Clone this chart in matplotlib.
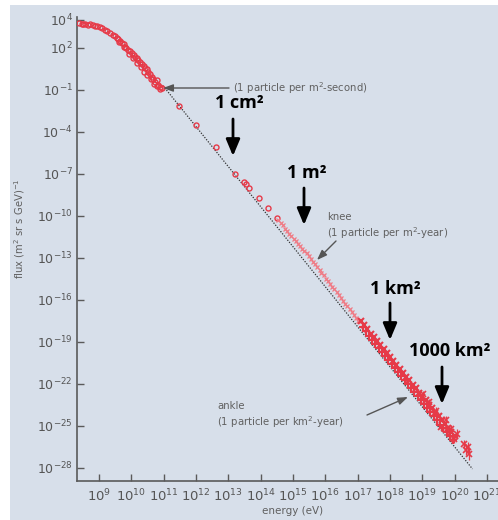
import numpy as np
import matplotlib
matplotlib.use("Agg")
import matplotlib.pyplot as plt
from matplotlib.patches import Rectangle

W, H = 498, 520

# ---------------- data (log10 values) ----------------
# low-energy open circles (dense part)
low_logE = [8.38, 8.46, 8.52, 8.58, 8.65, 8.72, 8.80, 8.88, 8.95, 9.03, 9.10,
            9.19, 9.26, 9.34, 9.42, 9.50, 9.55, 9.59, 9.65, 9.71, 9.76, 9.80,
            9.85, 9.90, 9.96, 10.02, 10.07, 10.11, 10.16, 10.21, 10.27, 10.33,
            10.38, 10.42, 10.47, 10.52, 10.58, 10.64, 10.68, 10.73, 10.78,
            10.83, 10.90, 10.95]
low_logF = [3.76, 3.74, 3.69, 3.72, 3.66, 3.69, 3.63, 3.60, 3.55, 3.52, 3.40,
            3.29, 3.20, 3.05, 2.95, 2.86, 2.74, 2.62, 2.52, 2.38, 2.28, 2.10,
            2.02, 1.86, 1.76, 1.62, 1.52, 1.38, 1.28, 1.14, 1.02, 0.86, 0.74,
            0.55, 0.48, 0.31, 0.12, -0.05, -0.22, -0.40, -0.30, -0.64, -0.78,
            -0.88]
low2_logE = [9.62, 9.78, 9.94, 10.05, 10.18, 10.30, 10.40, 10.50, 10.60, 10.70,
             10.80, 10.88]
low2_logF = [2.45, 2.05, 1.55, 1.30, 0.95, 0.62, 0.30, 0.05, -0.20, -0.55,
             -0.70, -0.92]

# sparse open circles
mid_logE = [11.48, 12.00, 12.62, 13.22, 13.47, 13.55, 13.65, 13.96, 14.24, 14.50]
mid_logF = [-2.14, -3.50, -5.05, -6.97, -7.55, -7.72, -8.02, -8.74, -9.45, -10.16]

# knee region (small light markers)
knee_logE = [14.55, 14.62, 14.68, 14.75, 14.82, 14.88, 14.95, 15.02, 15.08,
             15.15, 15.22, 15.28, 15.35, 15.42, 15.48, 15.55, 15.62, 15.68,
             15.75, 15.82, 15.88, 15.95, 16.02, 16.08, 16.15, 16.22, 16.28,
             16.35, 16.42, 16.48, 16.55, 16.62, 16.68, 16.75, 16.82, 16.88,
             16.95, 17.02]
knee_logF = [-10.30, -10.52, -10.66, -10.90, -11.07, -11.27, -11.43, -11.63,
             -11.79, -11.98, -12.15, -12.35, -12.52, -12.68, -12.88, -13.05,
             -13.27, -13.45, -13.65, -13.86, -14.06, -14.24, -14.47, -14.63,
             -14.85, -15.06, -15.25, -15.45, -15.68, -15.85, -16.06, -16.28,
             -16.45, -16.68, -16.88, -17.06, -17.28, -17.47]

# high-energy band
hiA_logE = [17.10, 17.20, 17.30, 17.40, 17.50, 17.60, 17.70, 17.80, 17.90,
            18.00, 18.10, 18.20, 18.30, 18.40, 18.50, 18.60, 18.70, 18.80,
            18.90, 19.00, 19.10, 19.20, 19.30, 19.40, 19.50, 19.60, 19.70,
            19.80, 19.90, 20.00]
hiA_logF = [-17.48, -17.80, -18.05, -18.40, -18.62, -18.95, -19.20, -19.52,
            -19.78, -20.05, -20.38, -20.62, -20.92, -21.20, -21.50, -21.75,
            -22.05, -22.30, -22.62, -22.90, -23.15, -23.50, -23.72, -24.05,
            -24.30, -24.60, -24.85, -25.15, -25.40, -25.70]
hiB_logE = [17.15, 17.25, 17.35, 17.45, 17.55, 17.65, 17.75, 17.85, 17.95,
            18.05, 18.15, 18.25, 18.35, 18.45, 18.55, 18.65, 18.75, 18.85,
            18.95, 19.05, 19.15, 19.25, 19.35, 19.45, 19.55, 19.65, 19.75,
            19.85, 19.95]
hiB_logF = [-17.95, -18.25, -18.58, -18.85, -19.15, -19.40, -19.72, -20.00,
            -20.30, -20.55, -20.88, -21.15, -21.45, -21.72, -22.02, -22.30,
            -22.58, -22.88, -23.15, -23.45, -23.72, -24.02, -24.30, -24.58,
            -24.90, -25.15, -25.45, -25.72, -26.00]
# scattered highest-energy points with error bars
top_logE = [19.02, 19.22, 19.42, 19.58, 19.72, 19.88, 19.97, 20.08,
            20.28, 20.35, 20.42, 20.45]
top_logF = [-22.70, -23.30, -23.90, -25.10, -24.60, -25.20, -25.90, -25.60,
            -26.30, -26.70, -26.50, -27.00]
top_err = [0.20, 0.20, 0.25, 0.25, 0.30, 0.30, 0.30, 0.35,
           0.30, 0.40, 0.35, 0.40]

# power-law reference line (dotted)
line_logE = [10.98, 20.55]
line_logF = [-0.70, -28.07]

xtick_exp = list(range(9, 22))
ytick_exp = [4, 2, -1, -4, -7, -10, -13, -16, -19, -22, -25, -28]

# ---------------- figure ----------------
fig = plt.figure(figsize=(W / 100, H / 100), dpi=100)
fig.patch.set_facecolor("white")
bg = "#d7dfea"
fig.patches.append(Rectangle((10 / W, 0), 1 - 10 / W, 1 - 5 / H,
                             transform=fig.transFigure, facecolor=bg,
                             edgecolor="none", zorder=-10))

left, right, top, bottom = 77, 510, 17, 481
ax = fig.add_axes([left / W, 1 - bottom / H, (right - left) / W, (bottom - top) / H])
ax.set_facecolor("none")
ax.set_xscale("log")
ax.set_yscale("log")
ax.set_xlim(10 ** 8.32, 10 ** 21.71)
ax.set_ylim(10 ** -28.93, 10 ** 4.21)

def p10(v):
    return [10.0 ** x for x in v]

red = "#e63a48"
pink = "#f07a84"
ax.plot(p10(line_logE), p10(line_logF), color="#333333", lw=0.9,
        ls=(0, (1, 1.2)), zorder=2)
circ = dict(ls="none", marker="o", ms=3.6, mfc="none", mec=red, mew=1.0, zorder=3)
ax.plot(p10(low_logE), p10(low_logF), **circ)
ax.plot(p10(low2_logE), p10(low2_logF), **circ)
ax.plot(p10(mid_logE), p10(mid_logF), **circ)
ax.plot(p10(knee_logE), p10(knee_logF), ls="none", marker="x", ms=3.0,
        mec=pink, mew=0.9, zorder=3)
ax.plot(p10(hiA_logE), p10(hiA_logF), ls="none", marker="x", ms=4.8,
        mec=red, mew=1.5, zorder=3)
ax.plot(p10(hiB_logE), p10(hiB_logF), ls="none", marker="+", ms=5.2,
        mec=red, mew=1.5, zorder=3)
tF = np.array(top_logF)
te = np.array(top_err)
ax.errorbar(p10(top_logE), p10(top_logF),
            yerr=[10 ** tF - 10 ** (tF - te), 10 ** (tF + te) - 10 ** tF],
            fmt="x", ms=4.0, mec=red, mew=1.2, ecolor=red, elinewidth=0.9,
            zorder=3)

# axes styling
for s in ["top", "right"]:
    ax.spines[s].set_visible(False)
for s in ["left", "bottom"]:
    ax.spines[s].set_color("#5a5a5a")
    ax.spines[s].set_linewidth(1.2)
ax.set_xticks([10.0 ** e for e in xtick_exp])
ax.set_yticks([10.0 ** e for e in ytick_exp])
ax.minorticks_off()
ax.tick_params(axis="both", direction="in", length=5, width=1.0,
               color="#5a5a5a", labelcolor="#555555")
ax.tick_params(axis="x", labelsize=9.5, pad=5)
ax.tick_params(axis="y", labelsize=9, pad=3)

def fp(x, y):
    return (x / W, 1 - y / H)

gray = "#606060"
fig.text(*fp(20, 229), "flux (m$^2$ sr s GeV)$^{-1}$", rotation=90,
         ha="center", va="center", fontsize=7.2, color=gray)
fig.text(*fp(293, 511), "energy (eV)", ha="center", va="center",
         fontsize=7.5, color=gray)

# gray annotations
def garrow(x0, y0, x1, y1):
    ax.annotate("", xy=fp(x1, y1), xycoords="figure fraction",
                xytext=fp(x0, y0), textcoords="figure fraction",
                arrowprops=dict(arrowstyle="-|>,head_length=0.6,head_width=0.22",
                                color="#555555", lw=1.0, mutation_scale=10,
                                shrinkA=0, shrinkB=0))

fig.text(*fp(233, 88), "(1 particle per m$^2$-second)", ha="left",
         va="center", fontsize=7.3, color=gray)
garrow(229, 88, 163, 88)
fig.text(*fp(327, 217), "knee", ha="left", va="center", fontsize=7.3, color=gray)
fig.text(*fp(327, 233), "(1 particle per m$^2$-year)", ha="left",
         va="center", fontsize=7.3, color=gray)
garrow(336, 241, 317, 260)
fig.text(*fp(217, 406), "ankle", ha="left", va="center", fontsize=7.3, color=gray)
fig.text(*fp(217, 422), "(1 particle per km$^2$-year)", ha="left",
         va="center", fontsize=7.3, color=gray)
garrow(367, 415, 408, 397)

# bold area labels with black arrows
def barrow(x, y0, y1):
    ax.annotate("", xy=fp(x, y1), xycoords="figure fraction",
                xytext=fp(x, y0), textcoords="figure fraction",
                arrowprops=dict(arrowstyle="-|>,head_length=1.0,head_width=0.42",
                                color="black", lw=2.0, mutation_scale=10,
                                shrinkA=0, shrinkB=0))

bold = dict(fontsize=13, fontweight="bold", color="black",
            family=["Open Sans", "DejaVu Sans"], va="center")
fig.text(*fp(239, 103), "1 cm²", ha="center", **bold)
barrow(233, 119, 156)
fig.text(*fp(307, 173), "1 m²", ha="center", **bold)
barrow(304, 188, 225)
fig.text(*fp(395, 289), "1 km²", ha="center", **bold)
barrow(390, 303, 340)
fig.text(*fp(409, 351), "1000 km²", ha="left", **bold)
barrow(442, 367, 404)

fig.savefig("out.png", dpi=100, facecolor="white")
